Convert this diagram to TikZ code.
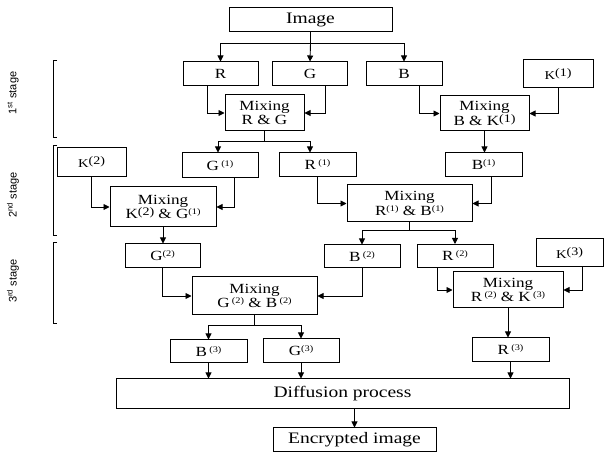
\documentclass[tikz,border=0pt]{standalone}
\usepackage{fontspec}
\setmainfont{Liberation Serif}[FakeStretch=1.22]
\newfontfamily\stagefont{Liberation Sans}
\usetikzlibrary{arrows.meta, positioning}

\newcommand{\up}[1]{\raisebox{4pt}{\fontsize{8.5}{8.5}\selectfont(#1)}}
\newcommand{\kpar}[1]{\raisebox{3pt}{\fontsize{11.5}{11.5}\selectfont(#1)}}
\newcommand{\kup}[1]{{\fontsize{12}{12}\selectfont K}\kpar{#1}}

\begin{document}
\begin{tikzpicture}[x=1pt, y=-1pt,
        box/.style={rectangle, draw, line width=1pt, inner sep=0pt, minimum height=24, align=center, font=\fontsize{14}{14.5}\selectfont},
        bigbox/.style={box, font=\fontsize{16}{17}\selectfont},
        keybox/.style={box, minimum height=28},
        mixbox/.style={box, minimum height=36},
        arrow/.style={-{Triangle[length=6pt, width=6pt]}, line width=0.9pt},
        stage/.style={rotate=90, font=\stagefont\fontsize{11}{12}\selectfont},
        bracket/.style={line width=0.8pt}
    ]
        \useasboundingbox (0,0) rectangle (606,457);

        \node[bigbox, minimum width=163] (img) at (310.5,20) {Image};
        \node[box, minimum width=75] (r) at (220.5,74) {R};
        \node[box, minimum width=75] (g) at (310,74) {G};
        \node[box, minimum width=76] (b) at (404,74) {B};
        \node[keybox, minimum width=70] (k1) at (558,74) {\kup{1}};
        \node[mixbox, minimum width=79] (mixrg) at (264.5,113) {Mixing\\R \& G};
        \node[mixbox, minimum width=89, minimum height=35] (mixbk) at (484.5,113.5) {Mixing\\B \& K\kpar{1}};

        \node[keybox, minimum width=69, minimum height=29] (k2) at (91.5,162.5) {\kup{2}};
        \node[box, minimum width=76, minimum height=25] (g1) at (220,165.5) {G\,\up{1}};
        \node[box, minimum width=77] (r1) at (317.5,165) {R\,\up{1}};
        \node[box, minimum width=77] (b1) at (483.5,165) {B\up{1}};
        \node[mixbox, minimum width=106, minimum height=40] (mixkg) at (163,207) {Mixing\\K\kpar{2} \& G\up{1}};
        \node[mixbox, minimum width=125, minimum height=37] (mixrb) at (409.5,203.5) {Mixing\\R\up{1} \& B\up{1}};

        \node[box, minimum width=75] (g2) at (162.5,256) {G\up{2}};
        \node[box, minimum width=76, minimum height=23] (b2) at (362,256.5) {B\,\up{2}};
        \node[box, minimum width=76, minimum height=23] (r2) at (455,256) {R\,\up{2}};
        \node[keybox, minimum width=67] (k3) at (569.5,253) {\kup{3}};
        \node[mixbox, minimum width=125, minimum height=38] (mixgb) at (254.5,296) {Mixing\\G\,\up{2} \& B\,\up{2}};
        \node[mixbox, minimum width=110] (mixrk) at (508,290) {Mixing\\R\,\up{2} \& K\,\up{3}};

        \node[box, minimum width=77, minimum height=23] (b3) at (208.5,351.5) {B\,\up{3}};
        \node[box, minimum width=76] (g3) at (301,351) {G\up{3}};
        \node[box, minimum width=77] (r3) at (510.5,350) {R\,\up{3}};
        \node[bigbox, minimum width=453, minimum height=30] (diff) at (342.5,394) {Diffusion process};
        \node[bigbox, minimum width=163] (enc) at (354.5,440) {Encrypted image};

        \node[stage] (st1) at (13,93) {1\textsuperscript{st} stage};
        \node[stage] (st2) at (13,195) {2\textsuperscript{nd} stage};
        \node[stage] (st3) at (13,281) {3\textsuperscript{rd} stage};
        \draw[bracket] (57,60) -- (53,60) -- (53,137) -- (57,137);
        \draw[bracket] (57,145) -- (53,145) -- (53,235) -- (57,235);
        \draw[bracket] (57,242) -- (53,242) -- (53,323) -- (57,323);

        \draw[line width=0.9pt] (img.south) -- ++(0,11) coordinate (j1);
        \draw[arrow] (j1) -| (r.north);
        \draw[arrow] (j1) -- (g.north);
        \draw[arrow] (j1) -| (b.north);
        \draw[arrow] ([xshift=-13.5]r.south) |- (mixrg.west);
        \draw[arrow] ([xshift=15.5]g.south) |- (mixrg.east);
        \draw[arrow] ([xshift=15]b.south) |- (mixbk.west);
        \draw[arrow] (k1.south) |- (mixbk.east);

        \draw[line width=0.9pt] (mixrg.south) -- ++(0,10) coordinate (j2);
        \draw[arrow] (j2) -| ([xshift=-2]g1.north);
        \draw[arrow] (j2) -| ([xshift=-7.5]r1.north);
        \draw[arrow] (mixbk.south) -- (mixbk.south |- b1.north);
        \draw[arrow] (k2.south) |- (mixkg.west);
        \draw[arrow] ([xshift=14]g1.south) |- (mixkg.east);
        \draw[arrow] (r1.south) |- (mixrb.west);
        \draw[arrow] ([xshift=7.5]b1.south) |- (mixrb.east);

        \draw[arrow] (mixkg.south) -- (mixkg.south |- g2.north);
        \draw[line width=0.9pt] (mixrb.south) -- ++(0,8) coordinate (j3);
        \draw[arrow] (j3) -| (b2.north);
        \draw[arrow] (j3) -| (r2.north);
        \draw[arrow] (g2.south) |- (mixgb.west);
        \draw[arrow] (b2.south) |- (mixgb.east);
        \draw[arrow] ([xshift=-18]r2.south) |- (mixrk.west);
        \draw[arrow] ([xshift=12.5]k3.south) |- (mixrk.east);

        \draw[line width=0.9pt] (mixgb.south) -- ++(0,10) coordinate (j4);
        \draw[arrow] (j4) -| (b3.north);
        \draw[arrow] (j4) -| (g3.north);
        \draw[arrow] (mixrk.south) -- (mixrk.south |- r3.north);
        \draw[arrow] (b3.south) -- (b3.south |- diff.north);
        \draw[arrow] (g3.south) -- (g3.south |- diff.north);
        \draw[arrow] (r3.south) -- (r3.south |- diff.north);
        \draw[arrow] (diff.south -| enc.north) -- (enc.north);
    \end{tikzpicture}
\end{document}
